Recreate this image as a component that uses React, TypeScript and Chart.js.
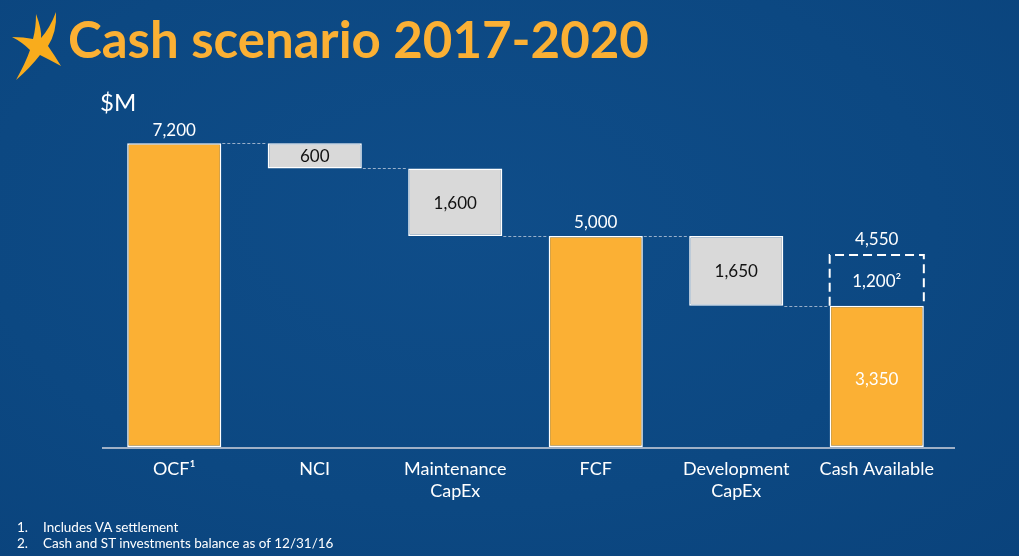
import React, { useEffect, useRef } from "react";
import { Chart, registerables } from "chart.js";

Chart.register(...registerables);

const categories: string[][] = [
  ["OCF¹"],
  ["NCI"],
  ["Maintenance", "CapEx"],
  ["FCF"],
  ["Development", "CapEx"],
  ["Cash Available"],
];
const values = [7200, 600, 1600, 5000, 1650, 3350];
const kinds = ["total", "down", "down", "total", "down", "total"];
const extraIndex = 5;
const extraValue = 1200;
const extraLabel = "1,200²";
const footnotes = ["Includes VA settlement", "Cash and ST investments balance as of 12/31/16"];

const ORANGE = "#fbb034";
const GREY = "#d9d9d9";
const BG = "#0c4882";

const fmt = (v: number) => v.toLocaleString("en-US");

// build floating ranges from the waterfall values
const ranges: [number, number][] = [];
const levels: number[] = [];
{
  let level = 0;
  values.forEach((v, i) => {
    if (kinds[i] === "total") {
      ranges.push([0, v]);
      level = v;
    } else {
      ranges.push([level - v, level]);
      level = level - v;
    }
    levels.push(level);
  });
}
const extraRanges: ([number, number] | null)[] = categories.map((_, i) =>
  i === extraIndex ? [values[extraIndex], values[extraIndex] + extraValue] : null
);

const waterfallPlugin = {
  id: "waterfall",
  beforeDatasetsDraw(chart: any) {
    const ctx = chart.ctx as CanvasRenderingContext2D;
    const y = chart.scales.y;
    const area = chart.chartArea;
    ctx.save();
    ctx.strokeStyle = "#9fb0c6";
    ctx.lineWidth = 2;
    const py = Math.round(y.getPixelForValue(0)) + 1;
    ctx.beginPath();
    ctx.moveTo(area.left - 2, py);
    ctx.lineTo(area.right + 8, py);
    ctx.stroke();
    ctx.restore();
  },
  afterDatasetsDraw(chart: any) {
    const ctx = chart.ctx as CanvasRenderingContext2D;
    const y = chart.scales.y;
    const bars = chart.getDatasetMeta(0).data;
    ctx.save();
    // connectors
    ctx.strokeStyle = "rgba(200,210,225,0.75)";
    ctx.lineWidth = 1;
    ctx.setLineDash([3, 2]);
    for (let i = 0; i < bars.length - 1; i++) {
      const a = bars[i].getProps(["x", "width"], true);
      const b = bars[i + 1].getProps(["x", "width"], true);
      const py = Math.round(y.getPixelForValue(levels[i])) + 0.5;
      ctx.beginPath();
      ctx.moveTo(a.x + a.width / 2 + 1, py);
      ctx.lineTo(b.x - b.width / 2 - 1, py);
      ctx.stroke();
    }
    // dashed box
    const eb = chart.getDatasetMeta(1).data[extraIndex].getProps(["x", "width"], true);
    const top = y.getPixelForValue(values[extraIndex] + extraValue);
    const bot = y.getPixelForValue(values[extraIndex]);
    const l = eb.x - eb.width / 2;
    const r = eb.x + eb.width / 2;
    ctx.strokeStyle = "#ffffff";
    ctx.lineWidth = 2;
    ctx.setLineDash([9, 5]);
    ctx.beginPath();
    ctx.moveTo(l, bot);
    ctx.lineTo(l, top);
    ctx.lineTo(r, top);
    ctx.lineTo(r, bot);
    ctx.stroke();
    ctx.setLineDash([]);

    // labels
    ctx.font = "17px Lato";
    ctx.textAlign = "center";
    ctx.textBaseline = "middle";
    bars.forEach((bar: any, i: number) => {
      const p = bar.getProps(["x"], true);
      const [lo, hi] = ranges[i];
      if (kinds[i] === "total") {
        if (i === extraIndex) {
          ctx.fillStyle = "#ffffff";
          ctx.fillText(fmt(values[i]), p.x, (y.getPixelForValue(lo) + y.getPixelForValue(hi)) / 2 + 3);
          ctx.fillText(extraLabel, p.x, (top + bot) / 2 + 1);
          ctx.fillText(fmt(values[i] + extraValue), p.x, top - 15);
        } else {
          ctx.fillStyle = "#ffffff";
          ctx.fillText(fmt(values[i]), p.x, y.getPixelForValue(hi) - 13);
        }
      } else {
        ctx.fillStyle = "#111111";
        ctx.fillText(fmt(values[i]), p.x, (y.getPixelForValue(lo) + y.getPixelForValue(hi)) / 2 + 1);
      }
    });
    ctx.restore();
  },
};

export default function App() {
  const ref = useRef<HTMLCanvasElement | null>(null);
  useEffect(() => {
    document.body.style.margin = "0";
    const chart = new Chart(ref.current as HTMLCanvasElement, {
      type: "bar",
      data: {
        labels: categories,
        datasets: [
          {
            data: ranges as any,
            backgroundColor: kinds.map((k) => (k === "total" ? ORANGE : GREY)),
            borderColor: "#ffffff",
            borderWidth: 1.5,
            borderSkipped: false,
            grouped: false,
            barPercentage: 0.67,
            categoryPercentage: 1,
          } as any,
          {
            data: extraRanges as any,
            backgroundColor: "rgba(0,0,0,0)",
            borderWidth: 0,
            grouped: false,
            barPercentage: 0.67,
            categoryPercentage: 1,
          } as any,
        ],
      },
      options: {
        responsive: false,
        animation: false,
        layout: { padding: { left: 104, right: 72, top: 109.4, bottom: 0 } },
        plugins: { legend: { display: false }, tooltip: { enabled: false } },
        scales: {
          y: { display: false, min: 0, max: 8000 },
          x: {
            grid: { display: false, drawTicks: false },
            border: { display: false },
            ticks: {
              color: "#ffffff",
              padding: 11,
              maxRotation: 0,
              autoSkip: false,
              font: { family: "Lato", size: 18, lineHeight: 1.22 },
            },
            afterFit(scale: any) {
              scale.height = 556 - 447;
            },
          },
        },
      },
      plugins: [waterfallPlugin],
    });
    return () => chart.destroy();
  }, []);

  return (
    <div
      style={{
        position: "fixed",
        left: 0,
        top: 0,
        width: 1019,
        height: 556,
        overflow: "hidden",
        background: `radial-gradient(ellipse at 45% 40%, #0f4d89 0%, ${BG} 60%, #0a437c 100%)`,
        fontFamily: "Lato, sans-serif",
      }}
    >
      <svg width="70" height="90" style={{ position: "absolute", left: 0, top: 0 }}>
        <path
          d="M36 14 Q42 30 41 38 Q50 28 56 12 Q57 32 48 46 Q55 56 61 66 Q50 60 40 55 Q30 68 16 80 Q26 62 30 50 Q22 42 12 37 Q24 37 33 39 Q36 28 36 14 Z"
          fill="#f9ac1c"
        />
      </svg>
      <div
        style={{
          position: "absolute",
          left: 68,
          top: 8,
          color: "#fbb034",
          fontWeight: 700,
          fontSize: 51,
          lineHeight: "62px",
          whiteSpace: "nowrap",
        }}
      >
        Cash scenario 2017-2020
      </div>
      <div
        style={{
          position: "absolute",
          left: 100,
          top: 88,
          color: "#ffffff",
          fontSize: 24,
          lineHeight: "28px",
        }}
      >
        $M
      </div>
      <canvas
        ref={ref}
        width={1019}
        height={556}
        style={{ position: "absolute", left: 0, top: 0, width: 1019, height: 556 }}
      />
      <div
        style={{
          position: "absolute",
          left: 17,
          top: 519,
          color: "#ffffff",
          fontSize: 13.5,
          lineHeight: "16px",
        }}
      >
        {footnotes.map((f, i) => (
          <div key={i} style={{ display: "flex" }}>
            <span style={{ width: 26 }}>{i + 1}.</span>
            <span>{f}</span>
          </div>
        ))}
      </div>
    </div>
  );
}
